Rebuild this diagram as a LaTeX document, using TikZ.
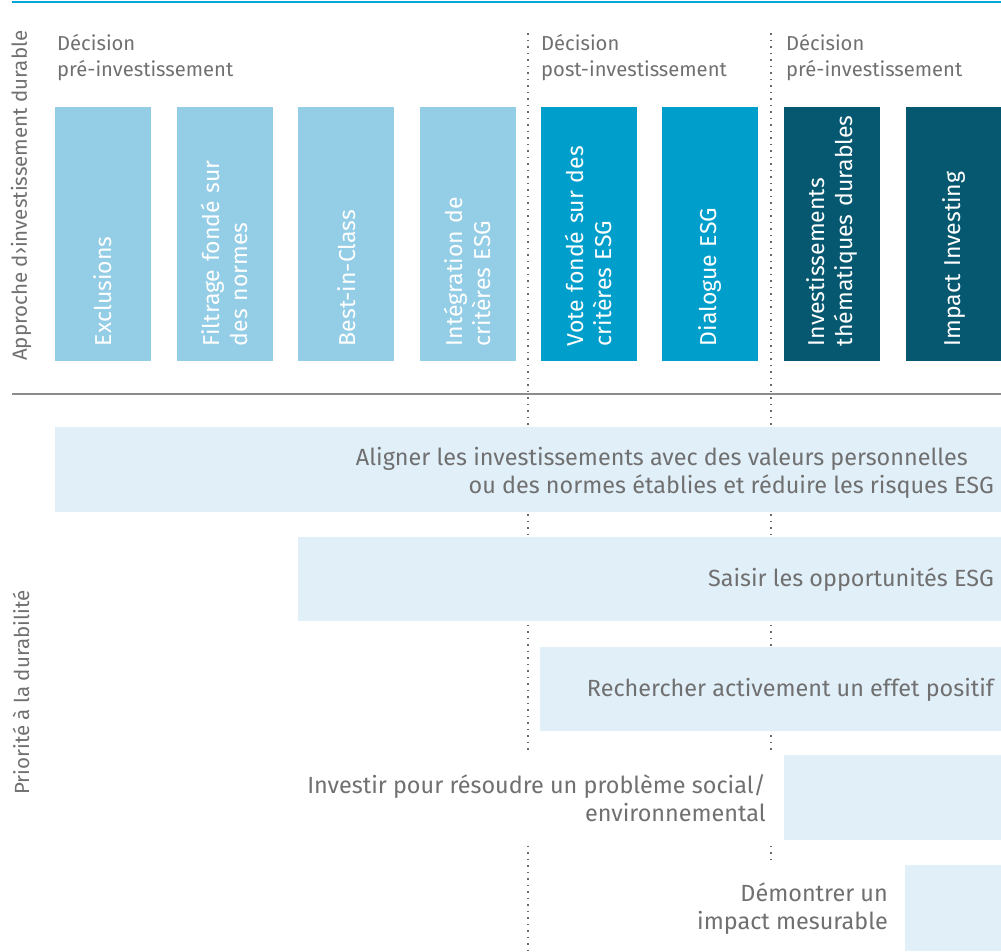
\documentclass[tikz,border=0pt]{standalone}
\usepackage{fontspec}
\setmainfont{Fira Sans}
\definecolor{boxlight}{HTML}{93CDE6}
\definecolor{boxmid}{HTML}{009ECB}
\definecolor{boxdark}{HTML}{055870}
\definecolor{bandfill}{HTML}{E1EFF9}
\definecolor{txtgray}{HTML}{707070}
\definecolor{topcyan}{HTML}{00A6DE}
\definecolor{rulegray}{HTML}{8C8C8C}
\definecolor{dotgray}{HTML}{6A6A6A}
\begin{document}
\begin{tikzpicture}[x=1pt,y=-1pt,
  boxnode/.style={rotate=90, minimum width=254pt, minimum height=96pt, text width=224pt,
    inner xsep=15pt, inner ysep=0pt, align=left, text=white, font=\fontsize{23}{28}\selectfont},
  bandtext/.style={anchor=east, align=right, inner sep=0pt, text=txtgray, font=\fontsize{23.4}{28}\selectfont},
  headtext/.style={anchor=north west, align=left, inner sep=0pt, text=txtgray, font=\fontsize{20.2}{26}\selectfont},
  sidetext/.style={rotate=90, anchor=west, inner sep=0pt, text=txtgray, font=\fontsize{20.5}{24}\selectfont},
  dotline/.style={dotgray, line width=1.6pt, dash pattern=on 1.6pt off 4.9pt}]
\useasboundingbox (0,0) rectangle (1001,951);
% rules
\draw[topcyan, line width=1.5pt] (12,2) -- (1001,2);
\draw[rulegray, line width=1.5pt] (12,394) -- (1001,394);
% dotted separators
\coordinate (d1top) at (528,33);
\coordinate (d1bot) at (528,951);
\coordinate (d2top) at (771,33);
\coordinate (d2bot) at (771,951);
\draw[dotline] (d1top) -- (d1bot);
\draw[dotline] (d2top) -- (d2bot);
% side labels
\node[sidetext] (sideA) at (21,361) {Approche d›investissement durable};
\node[sidetext] (sideB) at (21,795) {Priorité à la durabilité};
% headers
\node[headtext] (h1) at (57,34) {Décision\\pré-investissement};
\node[headtext] (h2) at (541,34) {Décision\\post-investissement};
\node[headtext] (h3) at (786,34) {Décision\\pré-investissement};
% approach boxes
\node[boxnode, fill=boxlight] (b1) at (102.5,234) {Exclusions};
\node[boxnode, fill=boxlight] (b2) at (224.5,234) {Filtrage fondé sur\\des normes};
\node[boxnode, fill=boxlight] (b3) at (346.2,234) {Best-in-Class};
\node[boxnode, fill=boxlight] (b4) at (467.5,234) {Intégration de\\critères ESG};
\node[boxnode, fill=boxmid] (b5) at (588.7,234) {Vote fondé sur des\\critères ESG};
\node[boxnode, fill=boxmid] (b6) at (709.7,234) {Dialogue ESG};
\node[boxnode, fill=boxdark] (b7) at (831.8,234) {Investissements\\\mbox{thématiques durables}};
\node[boxnode, fill=boxdark] (b8) at (954,234) {Impact Investing};
% bands
\fill[bandfill] (55,427) rectangle (1001,512);
\fill[bandfill] (298,537) rectangle (1001,621);
\fill[bandfill] (540,647) rectangle (1001,731);
\fill[white] (290,753) rectangle (784,842);
\fill[bandfill] (784,755) rectangle (1001,840);
\fill[white] (690,865) rectangle (905,951);
\fill[bandfill] (905,865) rectangle (1001,951);
\node[bandtext] (r1) at (994,473) {Aligner les investissements avec des valeurs personnelles\makebox[26pt]{}\\ou des normes établies et réduire les risques ESG};
\node[bandtext] (r2) at (994,580) {Saisir les opportunités ESG};
\node[bandtext] (r3) at (994,690) {Rechercher activement un effet positif};
\node[bandtext] (r4) at (766,798) {Investir pour résoudre un problème social/\\environnemental};
\node[bandtext] (r5) at (888,909) {Démontrer un\\impact mesurable};
\end{tikzpicture}
\end{document}
